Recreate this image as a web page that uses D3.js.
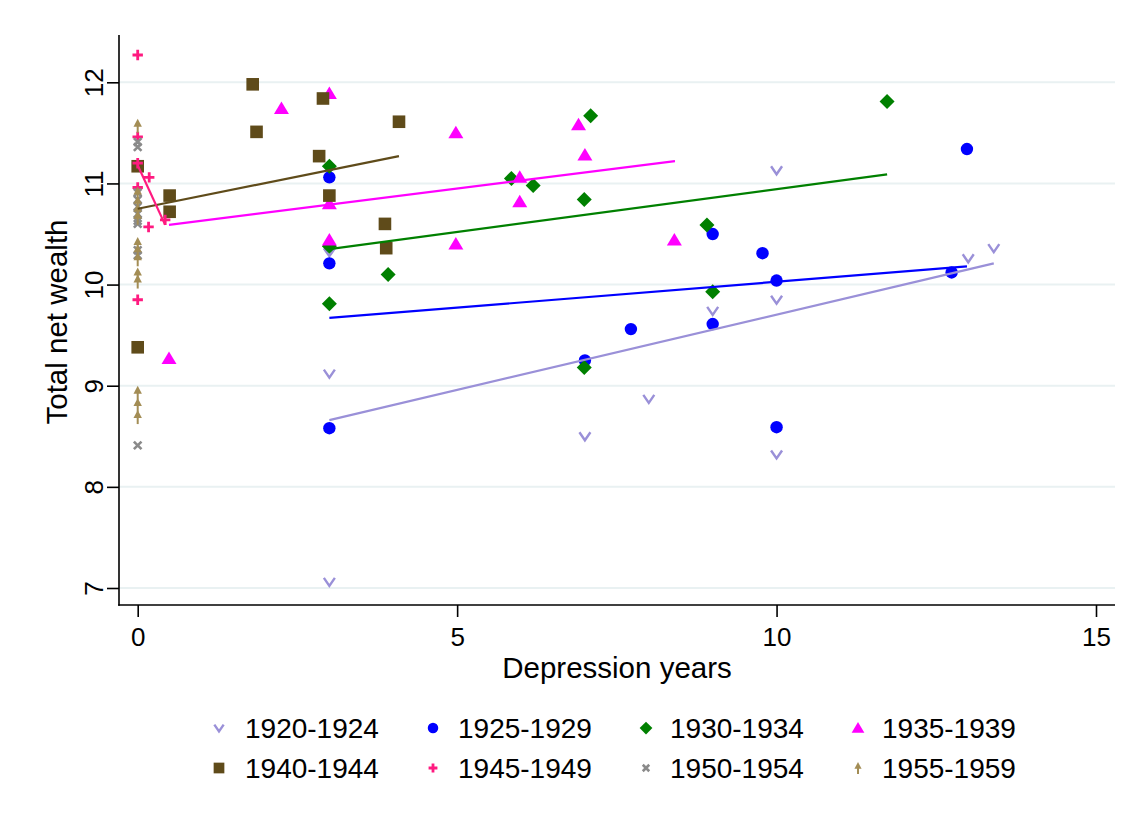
<!DOCTYPE html>
<html>
<head>
<meta charset="utf-8">
<script src="https://cdn.jsdelivr.net/npm/d3@7"></script>
<style>
  html, body { margin: 0; padding: 0; background: #fff; }
  svg { display: block; font-family: "Liberation Sans", Arial, sans-serif; }
</style>
</head>
<body>
<svg id="chart" width="1134" height="816"></svg>
<script>
// ---------------- data ----------------
const seriesNames = ["1920-1924", "1925-1929", "1930-1934", "1935-1939",
                     "1940-1944", "1945-1949", "1950-1954", "1955-1959"];

const x1920 = [3, 3, 3, 7, 8, 9, 10, 10, 10, 13, 13.4];
const y1920 = [10.32, 9.12, 7.06, 8.50, 8.87, 9.74, 9.85, 11.13, 8.32, 10.26, 10.36];

const x1925 = [3, 3, 3, 7, 7.72, 9, 9, 9.78, 10, 10, 12.98, 12.74];
const y1925 = [11.06, 10.21, 8.58, 9.25, 9.56, 10.50, 9.61, 10.31, 10.04, 8.59, 11.34, 10.12];

const x1930 = [3, 3, 3, 3.92, 5.85, 6.19, 7.09, 6.99, 6.99, 8.91, 9, 11.73];
const y1930 = [11.17, 10.38, 9.81, 10.10, 11.05, 10.98, 11.67, 10.84, 9.18, 10.59, 9.93, 11.81];

const x1935 = [0.49, 2.25, 3, 3, 3, 4.98, 4.98, 5.98, 5.98, 6.9, 7, 8.4];
const y1935 = [9.27, 11.74, 11.89, 10.80, 10.44, 11.50, 10.40, 11.06, 10.82, 11.58, 11.28, 10.44];

const x1940 = [0, 0, 0.5, 0.5, 1.8, 1.86, 2.9, 2.84, 3, 3.87, 3.89, 4.09];
const y1940 = [11.17, 9.38, 10.88, 10.72, 11.98, 11.51, 11.84, 11.27, 10.88, 10.60, 10.36, 11.61];

const x1945 = [0, 0, 0, 0, 0.18, 0.17, 0.43, 0];
const y1945 = [12.27, 11.46, 11.20, 10.96, 11.06, 10.57, 10.64, 9.85];

const x1950 = [0, 0, 0, 0, 0, 0, 0, 0, 0, 0, 0];
const y1950 = [11.41, 11.36, 10.91, 10.84, 10.77, 10.70, 10.63, 10.60, 10.34, 10.29, 8.41];

const x1955 = [0, 0, 0, 0, 0, 0, 0, 0, 0, 0, 0, 0, 0];
const y1955 = [11.57, 10.90, 10.81, 10.73, 10.66, 10.40, 10.33, 10.25, 10.10, 10.03, 8.93, 8.81, 8.69];

// linear-fit lines: [x start, x end], [y start, y end]
const fitX1920 = [3, 13.4],    fitY1920 = [8.66, 10.21];
const fitX1925 = [3, 12.98],   fitY1925 = [9.67, 10.18];
const fitX1930 = [3, 11.73],   fitY1930 = [10.35, 11.09];
const fitX1935 = [0.49, 8.41], fitY1935 = [10.59, 11.22];
const fitX1940 = [0, 4.09],    fitY1940 = [10.75, 11.27];
const fitX1945 = [0, 0.43],    fitY1945 = [11.18, 10.59];

const xTicks = [0, 5, 10, 15];
const yTicks = [7, 8, 9, 10, 11, 12];

// ---------------- styles ----------------
const colors = ["#9a90d8", "#0000ff", "#008000", "#ff00ff",
                "#5f4b1a", "#ff1a80", "#8a8a8a", "#a38d55"];
const shapes = ["v", "circle", "diamond", "triangle", "square", "plus", "x", "arrow"];

const series = [
  {x: x1920, y: y1920}, {x: x1925, y: y1925}, {x: x1930, y: y1930}, {x: x1935, y: y1935},
  {x: x1940, y: y1940}, {x: x1945, y: y1945}, {x: x1950, y: y1950}, {x: x1955, y: y1955}
];
const fits = [
  {s: 0, x: fitX1920, y: fitY1920}, {s: 1, x: fitX1925, y: fitY1925},
  {s: 2, x: fitX1930, y: fitY1930}, {s: 3, x: fitX1935, y: fitY1935},
  {s: 4, x: fitX1940, y: fitY1940}, {s: 5, x: fitX1945, y: fitY1945}
];

// ---------------- layout ----------------
const svg = d3.select("#chart");
const plotLeft = 119, plotRight = 1115, plotTop = 35, plotBottom = 605;

const x = d3.scaleLinear().domain([0, 15]).range([137.7, 1096]);
const y = d3.scaleLinear().domain([7, 12]).range([588, 82.3]);

// gridlines
svg.append("g").selectAll("line").data(yTicks).join("line")
  .attr("x1", plotLeft).attr("x2", plotRight)
  .attr("y1", d => y(d)).attr("y2", d => y(d))
  .attr("stroke", "#e9f1f2").attr("stroke-width", 2);

// axes
const xAxis = svg.append("g").attr("transform", `translate(0,${plotBottom})`)
  .call(d3.axisBottom(x).tickValues(xTicks).tickSize(12).tickPadding(11).tickFormat(d3.format("d")));
const yAxis = svg.append("g").attr("transform", `translate(${plotLeft},0)`)
  .call(d3.axisLeft(y).tickValues(yTicks).tickSize(12).tickFormat(d3.format("d")));
[xAxis, yAxis].forEach(a => {
  a.select(".domain").remove();
  a.selectAll(".tick line").attr("stroke", "#000").attr("stroke-width", 1.6);
  a.selectAll("text").attr("font-size", 26).attr("fill", "#000")
    .attr("font-family", "'Liberation Sans', Arial, sans-serif");
});
yAxis.selectAll("text")
  .attr("x", null).attr("dy", null)
  .attr("text-anchor", "middle")
  .attr("transform", "translate(-16,0) rotate(-90)");

svg.append("line").attr("x1", plotLeft).attr("x2", plotLeft)
  .attr("y1", plotTop).attr("y2", plotBottom + 0.8)
  .attr("stroke", "#000").attr("stroke-width", 1.6);
svg.append("line").attr("x1", plotLeft - 0.8).attr("x2", plotRight)
  .attr("y1", plotBottom).attr("y2", plotBottom)
  .attr("stroke", "#000").attr("stroke-width", 1.6);

// axis titles
svg.append("text").attr("x", (plotLeft + plotRight) / 2).attr("y", 678)
  .attr("text-anchor", "middle").attr("font-size", 29.5).text("Depression years");
svg.append("text").attr("transform", `translate(67,${(plotTop + plotBottom) / 2 + 2}) rotate(-90)`)
  .attr("text-anchor", "middle").attr("font-size", 29.5).text("Total net wealth");

// ---------------- marker drawing ----------------
function drawMarker(g, shape, color, scale) {
  const k = scale || 1;
  switch (shape) {
    case "v":
      g.append("path").attr("d", `M${-5.5*k},${-4*k} L0,${4*k} L${5.5*k},${-4*k}`)
        .attr("fill", "none").attr("stroke", color).attr("stroke-width", 2.4);
      break;
    case "circle":
      g.append("circle").attr("r", 6.2 * k).attr("fill", color);
      break;
    case "diamond":
      g.append("path").attr("d", `M0,${-7.5*k} L${7.5*k},0 L0,${7.5*k} L${-7.5*k},0Z`).attr("fill", color);
      break;
    case "triangle":
      g.append("path").attr("d", `M0,${-7*k} L${7.5*k},${5.5*k} L${-7.5*k},${5.5*k}Z`).attr("fill", color);
      break;
    case "square":
      g.append("rect").attr("x", -6.3*k).attr("y", -6.3*k).attr("width", 12.6*k).attr("height", 12.6*k)
        .attr("fill", color);
      break;
    case "plus":
      g.append("path").attr("d", `M${-5.2*k},0 H${5.2*k} M0,${-5.2*k} V${5.2*k}`)
        .attr("stroke", color).attr("stroke-width", 2.8).attr("fill", "none");
      break;
    case "x":
      g.append("path").attr("d", `M${-3.8*k},${-3.8*k} L${3.8*k},${3.8*k} M${-3.8*k},${3.8*k} L${3.8*k},${-3.8*k}`)
        .attr("stroke", color).attr("stroke-width", 2.6).attr("fill", "none");
      break;
    case "arrow":
      g.append("path").attr("d", `M0,${-7*k} L${4.2*k},${1*k} L${-4.2*k},${1*k}Z`).attr("fill", color);
      g.append("line").attr("x1", 0).attr("x2", 0).attr("y1", 0).attr("y2", 7*k)
        .attr("stroke", color).attr("stroke-width", 2);
      break;
  }
}

// scatter points
const pts = svg.append("g");
series.forEach((s, i) => {
  s.x.forEach((xv, j) => {
    const g = pts.append("g").attr("transform", `translate(${x(xv)},${y(s.y[j])})`);
    drawMarker(g, shapes[i], colors[i]);
  });
});

// fit lines
const line = d3.line().x(d => x(d[0])).y(d => y(d[1]));
svg.append("g").selectAll("path").data(fits).join("path")
  .attr("d", f => line([[f.x[0], f.y[0]], [f.x[1], f.y[1]]]))
  .attr("fill", "none")
  .attr("stroke", f => colors[f.s])
  .attr("stroke-width", 2.2);

// ---------------- legend ----------------
const legMarkX = [219, 433, 646, 858];
const legTextX = [245, 458, 670, 882];
const legRowY = [728, 768];
const leg = svg.append("g");
seriesNames.forEach((name, i) => {
  const col = i % 4, row = Math.floor(i / 4);
  const g = leg.append("g").attr("transform", `translate(${legMarkX[col]},${legRowY[row]})`);
  drawMarker(g, shapes[i], colors[i], 0.85);
  leg.append("text").attr("x", legTextX[col]).attr("y", legRowY[row])
    .attr("dy", "0.36em").attr("font-size", 28).text(name);
});
</script>
</body>
</html>
